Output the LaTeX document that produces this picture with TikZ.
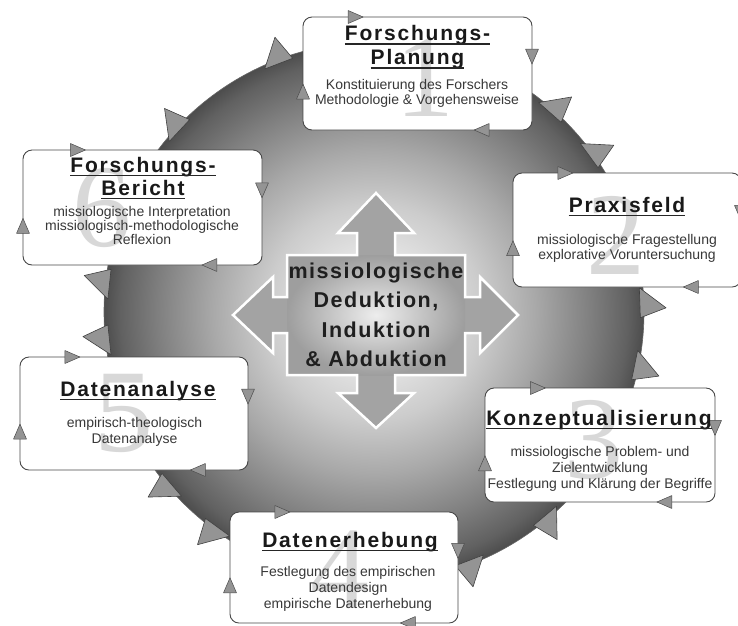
\documentclass[tikz,border=0pt]{standalone}
\usepackage{fontspec}
\setmainfont{Liberation Sans}
\newfontfamily\titlefont[LetterSpace=8.5]{Liberation Sans}
\newfontfamily\crossfont[LetterSpace=7]{Liberation Sans}
\newfontfamily\digitfont{Liberation Serif}
\usetikzlibrary{calc}
\pgfdeclareradialshading{gearshade}{\pgfpoint{0bp}{0bp}}{color(0bp)=(white!96!black); color(4bp)=(white!92!black); color(10bp)=(white!80!black); color(15bp)=(white!66!black); color(20bp)=(white!50!black); color(23.5bp)=(white!38!black); color(25bp)=(white!30!black); color(50bp)=(white!30!black)}
\newcommand{\edgearrow}[2]{\begin{scope}[shift={#1},rotate=#2]\filldraw[etri] (7.5,0) -- (-7.5,6.5) -- (-7.5,-6.5) -- cycle;\end{scope}}
\newcommand{\boxarrows}[1]{%
 \edgearrow{($(#1.north west)!0.23!(#1.north east)$)}{0}%
 \edgearrow{($(#1.north east)!0.35!(#1.south east)$)}{-90}%
 \edgearrow{($(#1.south west)!0.78!(#1.south east)$)}{180}%
 \edgearrow{($(#1.north west)!0.66!(#1.south west)$)}{90}}
\newcommand{\toothat}[1]{\begin{scope}[shift={(gc)},rotate=#1]\filldraw[toothst] (266,-15) -- (266,15) -- (292,6) -- cycle;\end{scope}}
\newcommand{\ulnode}[1]{\draw[uline] ([yshift=-3.5pt]#1.base west) -- ([yshift=-3.5pt]#1.base east);}
\begin{document}
\begin{tikzpicture}[x=1pt,y=-1pt,
  box/.style={draw=black!72, line width=0.9pt, fill=white, rounded corners=9pt, inner sep=0pt, outer sep=0pt},
  ttl/.style={inner sep=0pt, anchor=base, text=black!90, font=\titlefont\bfseries\fontsize{21}{25}\selectfont},
  bodytxt/.style={inner sep=0pt, anchor=base, text=black!78, font=\fontsize{14}{16}\selectfont},
  ctxt/.style={inner sep=0pt, anchor=base, text=black!88, font=\crossfont\bfseries\fontsize{21.5}{24}\selectfont},
  digit/.style={inner sep=0pt, text=black!40, opacity=0.38, font=\digitfont\fontsize{118}{118}\selectfont},
  uline/.style={line width=1.4pt, draw=black!85},
  etri/.style={fill=white!58!black, draw=black!70, line width=0.5pt, line join=round},
  toothst/.style={fill=white!58!black, draw=black!75, line width=0.6pt, line join=round}]
\useasboundingbox (0,0) rectangle (738,625);
\coordinate (gc) at (374,312);
% gear disc
\shade[shading=gearshade] (gc) circle[radius=270];
\draw[black!60, line width=0.6pt] (gc) circle[radius=270];
\foreach \a in {137,111,48.6,36,2,-11.5,-50,-69,-126,-139.5,174,186} {\toothat{\a}}
% central cross arrow
\fill[white!64!black] (287,255) -- (357,255) -- (357,233) -- (338,233) -- (376,193) -- (414,233) -- (395,233) -- (395,255) -- (465,255) -- (465,297) -- (480,297) -- (480,277) -- (518,315) -- (480,353) -- (480,333) -- (465,333) -- (465,375) -- (395,375) -- (395,393) -- (414,393) -- (376,428) -- (338,393) -- (357,393) -- (357,375) -- (287,375) -- (287,333) -- (273,333) -- (273,353) -- (233,315) -- (273,277) -- (273,297) -- (287,297) -- cycle;
\shade[inner color=white!93!black, outer color=white!62!black] (287,255) rectangle (465,375);
\draw[white, line width=2.5pt, line join=miter] (287,255) -- (357,255) -- (357,233) -- (338,233) -- (376,193) -- (414,233) -- (395,233) -- (395,255) -- (465,255) -- (465,297) -- (480,297) -- (480,277) -- (518,315) -- (480,353) -- (480,333) -- (465,333) -- (465,375) -- (395,375) -- (395,393) -- (414,393) -- (376,428) -- (338,393) -- (357,393) -- (357,375) -- (287,375) -- (287,333) -- (273,333) -- (273,353) -- (233,315) -- (273,277) -- (273,297) -- (287,297) -- cycle;
\node[ctxt] (c1) at (376,278) {missiologische};
\node[ctxt] (c2) at (376,307.5) {Deduktion,};
\node[ctxt] (c3) at (376,337) {Induktion};
\node[ctxt] (c4) at (376,366.5) {\& Abduktion};
% boxes
\node[box, minimum width=229pt, minimum height=113pt] (b1) at (417.5,73.5) {};
\node[box, minimum width=228pt, minimum height=114pt] (b2) at (627,230) {};
\node[box, minimum width=230pt, minimum height=114pt] (b3) at (600,445) {};
\node[box, minimum width=228pt, minimum height=111pt] (b4) at (344,567.5) {};
\node[box, minimum width=228pt, minimum height=113pt] (b5) at (134,413.5) {};
\node[box, minimum width=239pt, minimum height=115pt] (b6) at (142.5,207.5) {};
\boxarrows{b1}\boxarrows{b2}\boxarrows{b3}\boxarrows{b4}\boxarrows{b5}\boxarrows{b6}
% big digits
\node[digit] (n1) at (425,78) {1};
\node[digit] (n2) at (616,235) {2};
\node[digit] (n3) at (594,440) {3};
\node[digit] (n4) at (340,570) {4};
\node[digit] (n5) at (124,413) {5};
\node[digit] (n6) at (102,208) {6};
% box 1
\node[ttl] (t1a) at (417.5,40.5) {Forschungs-}; \ulnode{t1a}
\node[ttl] (t1b) at (417.5,64.5) {Planung}; \ulnode{t1b}
\node[bodytxt] (d1a) at (417,89) {Konstituierung des Forschers};
\node[bodytxt] (d1b) at (417,104) {Methodologie \& Vorgehensweise};
% box 2
\node[ttl] (t2a) at (627,212) {Praxisfeld}; \ulnode{t2a}
\node[bodytxt] (d2a) at (627,244) {missiologische Fragestellung};
\node[bodytxt] (d2b) at (627,259) {explorative Voruntersuchung};
% box 3
\node[ttl] (t3a) at (599,425) {Konzeptualisierung}; \ulnode{t3a}
\node[bodytxt] (d3a) at (600,456) {missiologische Problem- und};
\node[bodytxt] (d3b) at (600,472) {Zielentwicklung};
\node[bodytxt] (d3c) at (600,488) {Festlegung und Klärung der Begriffe};
% box 4
\node[ttl] (t4a) at (350,547) {Datenerhebung}; \ulnode{t4a}
\node[bodytxt] (d4a) at (348,576) {Festlegung des empirischen};
\node[bodytxt] (d4b) at (348,592) {Datendesign};
\node[bodytxt] (d4c) at (348,608) {empirische Datenerhebung};
% box 5
\node[ttl] (t5a) at (138,396) {Datenanalyse}; \ulnode{t5a}
\node[bodytxt] (d5a) at (134.5,427) {empirisch-theologisch};
\node[bodytxt] (d5b) at (134.5,443) {Datenanalyse};
% box 6
\node[ttl] (t6a) at (143,172) {Forschungs-}; \ulnode{t6a}
\node[ttl] (t6b) at (143,195) {Bericht}; \ulnode{t6b}
\node[bodytxt] (d6a) at (142,216) {missiologische Interpretation};
\node[bodytxt] (d6b) at (142,230) {missiologisch-methodologische};
\node[bodytxt] (d6c) at (142,244) {Reflexion};
\end{tikzpicture}
\end{document}
